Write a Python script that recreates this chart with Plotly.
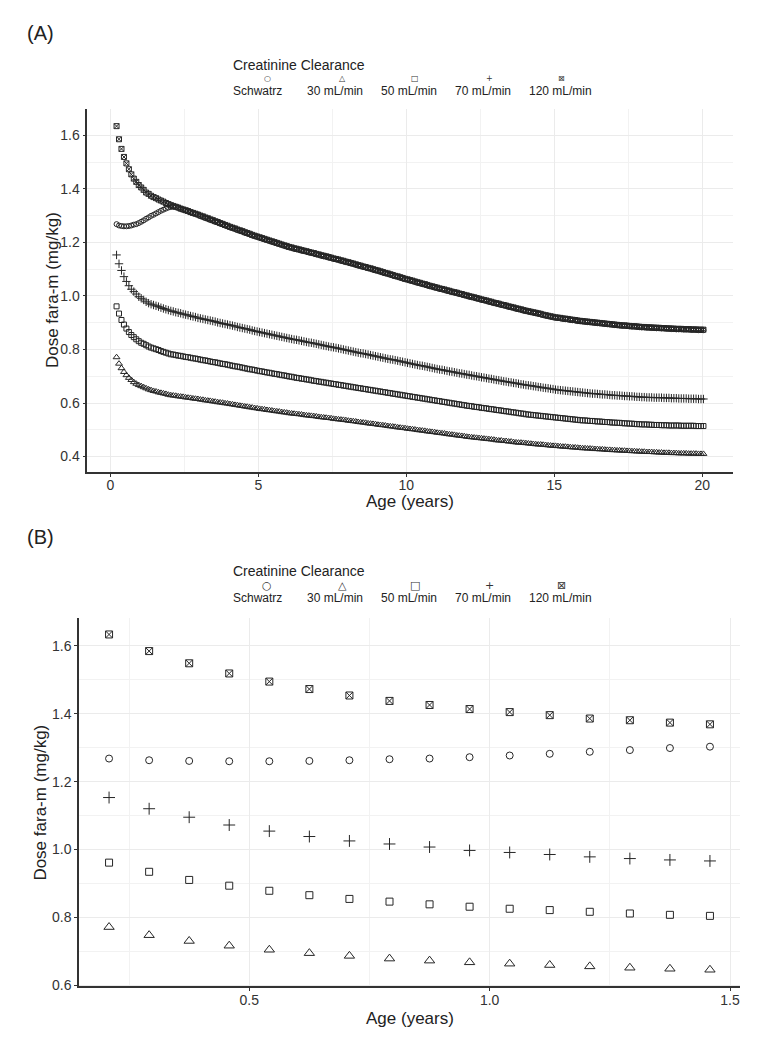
import plotly.graph_objects as go

W, H = 774, 1050
FONT = "Liberation Sans, Arial, sans-serif"
INK = "#262626"

# ages in years, one point per month starting at 2.5 months
age_a = [round((k + 2.5) / 12, 4) for k in range(239)]
age_b = [0.2083, 0.2917, 0.375, 0.4583, 0.5417, 0.625, 0.7083, 0.7917,
         0.875, 0.9583, 1.0417, 1.125, 1.2083, 1.2917, 1.375, 1.4583]

# dose (mg/kg), one row per year of age
schwartz = [
    1.268, 1.263, 1.261, 1.260, 1.260, 1.261, 1.263, 1.266, 1.268, 1.272,
    1.277, 1.282, 1.288, 1.293, 1.299, 1.303, 1.308, 1.313, 1.318, 1.322, 1.326, 1.330,
    1.332, 1.333, 1.332, 1.329, 1.325, 1.322, 1.319, 1.316, 1.312, 1.309, 1.306, 1.303,
    1.298, 1.295, 1.291, 1.288, 1.284, 1.281, 1.277, 1.274, 1.270, 1.267, 1.263, 1.260,
    1.256, 1.253, 1.250, 1.246, 1.243, 1.240, 1.236, 1.233, 1.230, 1.226, 1.223, 1.220,
    1.217, 1.214, 1.211, 1.208, 1.205, 1.202, 1.199, 1.196, 1.193, 1.190, 1.187, 1.184,
    1.181, 1.179, 1.176, 1.174, 1.172, 1.169, 1.167, 1.165, 1.162, 1.160, 1.158, 1.155,
    1.153, 1.150, 1.148, 1.146, 1.143, 1.141, 1.138, 1.136, 1.134, 1.131, 1.129, 1.126,
    1.124, 1.121, 1.119, 1.116, 1.113, 1.111, 1.108, 1.106, 1.103, 1.101, 1.098, 1.095,
    1.093, 1.090, 1.087, 1.084, 1.082, 1.079, 1.076, 1.073, 1.071, 1.068, 1.065, 1.062,
    1.060, 1.057, 1.055, 1.052, 1.049, 1.047, 1.044, 1.042, 1.039, 1.036, 1.034, 1.031,
    1.029, 1.026, 1.024, 1.022, 1.019, 1.017, 1.014, 1.012, 1.010, 1.007, 1.005, 1.002,
    1.000, 0.997, 0.995, 0.993, 0.990, 0.988, 0.985, 0.983, 0.981, 0.978, 0.976, 0.973,
    0.971, 0.969, 0.966, 0.964, 0.962, 0.959, 0.957, 0.955, 0.952, 0.950, 0.948, 0.945,
    0.943, 0.941, 0.939, 0.937, 0.935, 0.933, 0.931, 0.928, 0.926, 0.924, 0.922, 0.920,
    0.918, 0.917, 0.916, 0.914, 0.913, 0.912, 0.910, 0.909, 0.908, 0.906, 0.905, 0.904,
    0.903, 0.902, 0.901, 0.900, 0.899, 0.898, 0.897, 0.896, 0.895, 0.894, 0.893, 0.892,
    0.891, 0.890, 0.889, 0.888, 0.888, 0.887, 0.886, 0.885, 0.885, 0.884, 0.883, 0.882,
    0.882, 0.881, 0.881, 0.880, 0.880, 0.879, 0.879, 0.878, 0.878, 0.877, 0.877, 0.876,
    0.876, 0.875, 0.875, 0.875, 0.874, 0.874, 0.874, 0.873, 0.873, 0.873, 0.872, 0.872,
    0.872,
]
crcl_30 = [
    0.771, 0.747, 0.730, 0.716, 0.704, 0.694, 0.686, 0.678, 0.672, 0.667,
    0.663, 0.659, 0.655, 0.651, 0.648, 0.645, 0.643, 0.640, 0.638, 0.636, 0.634, 0.631,
    0.629, 0.628, 0.627, 0.625, 0.624, 0.623, 0.621, 0.620, 0.619, 0.617, 0.616, 0.615,
    0.613, 0.612, 0.610, 0.609, 0.608, 0.606, 0.605, 0.603, 0.602, 0.601, 0.599, 0.598,
    0.596, 0.595, 0.593, 0.592, 0.590, 0.589, 0.587, 0.586, 0.584, 0.583, 0.581, 0.580,
    0.578, 0.577, 0.576, 0.574, 0.573, 0.572, 0.570, 0.569, 0.568, 0.566, 0.565, 0.564,
    0.562, 0.561, 0.560, 0.559, 0.558, 0.557, 0.555, 0.554, 0.553, 0.552, 0.551, 0.550,
    0.548, 0.547, 0.546, 0.545, 0.544, 0.543, 0.541, 0.540, 0.539, 0.538, 0.537, 0.536,
    0.534, 0.533, 0.532, 0.531, 0.529, 0.528, 0.527, 0.526, 0.524, 0.523, 0.522, 0.521,
    0.519, 0.518, 0.517, 0.516, 0.514, 0.513, 0.512, 0.511, 0.509, 0.508, 0.507, 0.506,
    0.504, 0.503, 0.502, 0.501, 0.499, 0.498, 0.497, 0.496, 0.494, 0.493, 0.492, 0.491,
    0.489, 0.488, 0.487, 0.486, 0.484, 0.483, 0.482, 0.481, 0.479, 0.478, 0.477, 0.476,
    0.474, 0.473, 0.472, 0.471, 0.470, 0.469, 0.468, 0.467, 0.466, 0.465, 0.464, 0.463,
    0.461, 0.460, 0.460, 0.458, 0.458, 0.456, 0.456, 0.454, 0.453, 0.452, 0.452, 0.451,
    0.450, 0.449, 0.448, 0.447, 0.446, 0.445, 0.445, 0.444, 0.443, 0.442, 0.441, 0.440,
    0.440, 0.439, 0.438, 0.437, 0.437, 0.436, 0.435, 0.434, 0.434, 0.433, 0.432, 0.431,
    0.431, 0.430, 0.430, 0.429, 0.428, 0.428, 0.427, 0.427, 0.426, 0.425, 0.425, 0.424,
    0.424, 0.423, 0.423, 0.422, 0.422, 0.421, 0.421, 0.420, 0.420, 0.419, 0.419, 0.418,
    0.418, 0.417, 0.417, 0.417, 0.416, 0.416, 0.415, 0.415, 0.414, 0.414, 0.414, 0.413,
    0.413, 0.413, 0.412, 0.412, 0.412, 0.412, 0.411, 0.411, 0.411, 0.411, 0.410, 0.410,
    0.410,
]
crcl_50 = [
    0.961, 0.934, 0.910, 0.893, 0.878, 0.865, 0.854, 0.846, 0.838, 0.831,
    0.825, 0.821, 0.816, 0.811, 0.807, 0.804, 0.801, 0.798, 0.794, 0.791, 0.788, 0.785,
    0.782, 0.781, 0.779, 0.777, 0.776, 0.774, 0.772, 0.771, 0.769, 0.767, 0.766, 0.764,
    0.762, 0.760, 0.759, 0.757, 0.755, 0.753, 0.752, 0.750, 0.748, 0.746, 0.745, 0.743,
    0.741, 0.739, 0.737, 0.736, 0.734, 0.732, 0.730, 0.728, 0.726, 0.725, 0.723, 0.721,
    0.719, 0.718, 0.716, 0.714, 0.713, 0.711, 0.709, 0.708, 0.706, 0.704, 0.703, 0.701,
    0.699, 0.698, 0.696, 0.694, 0.693, 0.691, 0.690, 0.688, 0.687, 0.685, 0.683, 0.682,
    0.680, 0.679, 0.677, 0.676, 0.674, 0.673, 0.671, 0.670, 0.668, 0.667, 0.665, 0.664,
    0.662, 0.661, 0.659, 0.658, 0.656, 0.655, 0.653, 0.652, 0.650, 0.649, 0.647, 0.646,
    0.644, 0.643, 0.641, 0.640, 0.638, 0.637, 0.635, 0.634, 0.632, 0.631, 0.629, 0.628,
    0.626, 0.625, 0.623, 0.622, 0.620, 0.619, 0.617, 0.616, 0.614, 0.613, 0.611, 0.610,
    0.608, 0.607, 0.605, 0.604, 0.602, 0.601, 0.599, 0.598, 0.596, 0.595, 0.593, 0.592,
    0.590, 0.589, 0.588, 0.586, 0.585, 0.584, 0.582, 0.581, 0.580, 0.578, 0.577, 0.576,
    0.574, 0.573, 0.572, 0.570, 0.569, 0.568, 0.566, 0.565, 0.564, 0.562, 0.561, 0.560,
    0.558, 0.557, 0.556, 0.555, 0.554, 0.553, 0.552, 0.551, 0.550, 0.549, 0.548, 0.547,
    0.546, 0.545, 0.544, 0.543, 0.542, 0.541, 0.540, 0.539, 0.538, 0.537, 0.536, 0.535,
    0.535, 0.534, 0.533, 0.533, 0.532, 0.531, 0.531, 0.530, 0.529, 0.529, 0.528, 0.527,
    0.527, 0.526, 0.526, 0.525, 0.524, 0.524, 0.523, 0.523, 0.522, 0.521, 0.521, 0.520,
    0.520, 0.520, 0.519, 0.519, 0.518, 0.518, 0.518, 0.517, 0.517, 0.517, 0.516, 0.516,
    0.516, 0.516, 0.516, 0.515, 0.515, 0.515, 0.515, 0.515, 0.515, 0.514, 0.514, 0.514,
    0.514,
]
crcl_70 = [
    1.153, 1.120, 1.095, 1.072, 1.054, 1.038, 1.025, 1.016, 1.007, 0.997,
    0.991, 0.985, 0.978, 0.973, 0.969, 0.966, 0.963, 0.960, 0.956, 0.953, 0.950, 0.947,
    0.944, 0.942, 0.939, 0.937, 0.935, 0.932, 0.930, 0.928, 0.925, 0.923, 0.921, 0.918,
    0.916, 0.914, 0.912, 0.910, 0.908, 0.906, 0.904, 0.901, 0.899, 0.897, 0.895, 0.893,
    0.891, 0.889, 0.887, 0.884, 0.882, 0.880, 0.878, 0.876, 0.874, 0.871, 0.869, 0.867,
    0.865, 0.863, 0.861, 0.859, 0.857, 0.855, 0.853, 0.851, 0.849, 0.847, 0.845, 0.843,
    0.841, 0.839, 0.837, 0.836, 0.834, 0.832, 0.830, 0.828, 0.826, 0.825, 0.823, 0.821,
    0.819, 0.817, 0.815, 0.813, 0.811, 0.809, 0.808, 0.806, 0.804, 0.802, 0.800, 0.798,
    0.796, 0.794, 0.792, 0.790, 0.788, 0.786, 0.785, 0.783, 0.781, 0.779, 0.777, 0.775,
    0.773, 0.771, 0.769, 0.767, 0.765, 0.763, 0.762, 0.760, 0.758, 0.756, 0.754, 0.752,
    0.750, 0.748, 0.746, 0.744, 0.742, 0.740, 0.739, 0.737, 0.735, 0.733, 0.731, 0.729,
    0.727, 0.725, 0.724, 0.722, 0.720, 0.718, 0.717, 0.715, 0.713, 0.711, 0.710, 0.708,
    0.706, 0.705, 0.703, 0.701, 0.700, 0.698, 0.696, 0.695, 0.693, 0.691, 0.690, 0.688,
    0.686, 0.685, 0.683, 0.681, 0.680, 0.678, 0.677, 0.675, 0.674, 0.672, 0.670, 0.669,
    0.667, 0.666, 0.665, 0.663, 0.662, 0.660, 0.659, 0.657, 0.656, 0.655, 0.653, 0.652,
    0.650, 0.649, 0.648, 0.647, 0.646, 0.645, 0.644, 0.643, 0.642, 0.641, 0.640, 0.639,
    0.638, 0.637, 0.636, 0.635, 0.635, 0.634, 0.633, 0.632, 0.632, 0.631, 0.630, 0.629,
    0.629, 0.628, 0.628, 0.627, 0.626, 0.626, 0.625, 0.625, 0.624, 0.623, 0.623, 0.622,
    0.622, 0.621, 0.621, 0.621, 0.620, 0.620, 0.620, 0.620, 0.619, 0.619, 0.619, 0.618,
    0.618, 0.618, 0.617, 0.617, 0.617, 0.617, 0.616, 0.616, 0.616, 0.616, 0.615, 0.615,
    0.615,
]
crcl_120 = [
    1.634, 1.585, 1.549, 1.519, 1.495, 1.473, 1.454, 1.438, 1.426, 1.414,
    1.405, 1.396, 1.386, 1.381, 1.374, 1.369, 1.365, 1.360, 1.356, 1.352, 1.347, 1.343,
    1.339, 1.336, 1.333, 1.330, 1.326, 1.323, 1.320, 1.317, 1.313, 1.310, 1.307, 1.304,
    1.300, 1.297, 1.293, 1.290, 1.286, 1.283, 1.279, 1.276, 1.272, 1.269, 1.265, 1.262,
    1.258, 1.255, 1.252, 1.248, 1.245, 1.242, 1.238, 1.235, 1.232, 1.228, 1.225, 1.222,
    1.219, 1.216, 1.213, 1.210, 1.207, 1.204, 1.201, 1.198, 1.195, 1.192, 1.189, 1.186,
    1.183, 1.181, 1.178, 1.176, 1.174, 1.171, 1.169, 1.167, 1.164, 1.162, 1.160, 1.157,
    1.155, 1.152, 1.150, 1.148, 1.145, 1.143, 1.140, 1.138, 1.136, 1.133, 1.131, 1.128,
    1.126, 1.123, 1.121, 1.118, 1.115, 1.113, 1.110, 1.108, 1.105, 1.103, 1.100, 1.097,
    1.095, 1.092, 1.089, 1.086, 1.084, 1.081, 1.078, 1.075, 1.073, 1.070, 1.067, 1.064,
    1.062, 1.059, 1.057, 1.054, 1.051, 1.049, 1.046, 1.044, 1.041, 1.038, 1.036, 1.033,
    1.031, 1.028, 1.026, 1.024, 1.021, 1.019, 1.016, 1.014, 1.012, 1.009, 1.007, 1.004,
    1.002, 0.999, 0.997, 0.995, 0.992, 0.990, 0.987, 0.985, 0.983, 0.980, 0.978, 0.975,
    0.973, 0.971, 0.968, 0.966, 0.964, 0.961, 0.959, 0.957, 0.954, 0.952, 0.950, 0.947,
    0.945, 0.943, 0.941, 0.939, 0.937, 0.935, 0.933, 0.930, 0.928, 0.926, 0.924, 0.922,
    0.920, 0.919, 0.918, 0.916, 0.915, 0.914, 0.912, 0.911, 0.910, 0.908, 0.907, 0.906,
    0.905, 0.904, 0.903, 0.902, 0.901, 0.900, 0.899, 0.898, 0.897, 0.896, 0.895, 0.894,
    0.893, 0.892, 0.891, 0.890, 0.890, 0.889, 0.888, 0.887, 0.887, 0.886, 0.885, 0.884,
    0.884, 0.883, 0.883, 0.882, 0.882, 0.881, 0.881, 0.880, 0.880, 0.879, 0.879, 0.878,
    0.878, 0.877, 0.877, 0.877, 0.876, 0.876, 0.876, 0.875, 0.875, 0.875, 0.874, 0.874,
    0.874,
]

series_names = ["Schwatrz", "30 mL/min", "50 mL/min", "70 mL/min", "120 mL/min"]
series_vals = [schwartz, crcl_30, crcl_50, crcl_70, crcl_120]
symbols = ["circle-open", "triangle-up-open", "square-open", "cross-thin", "square-x-open"]
size_a = [5, 6, 5, 6, 5]
size_b = [7, 9, 7, 8.5, 7]
legend_glyphs = ["\u25cb", "\u25b3", "\u25a1", "+", "\u22a0"]

fig = go.Figure()
n_b = len(age_b)
for name, vals, sym, sa, sb in zip(series_names, series_vals, symbols, size_a, size_b):
    fig.add_trace(go.Scatter(x=age_a, y=vals, mode="markers", name=name,
                             xaxis="x", yaxis="y", showlegend=False,
                             marker=dict(symbol=sym, size=sa, color=INK,
                                         line=dict(color=INK, width=1))))
    fig.add_trace(go.Scatter(x=age_b, y=vals[:n_b], mode="markers", name=name,
                             xaxis="x2", yaxis="y2", showlegend=False,
                             marker=dict(symbol=sym, size=sb, color=INK,
                                         line=dict(color=INK, width=1))))


def axis_style(**kw):
    d = dict(showline=True, linecolor="#333", linewidth=1.5, ticks="outside",
             ticklen=3, tickcolor="#333", tickwidth=1,
             tickfont=dict(family=FONT, size=14, color="#333"),
             showgrid=True, gridcolor="#ebebeb", gridwidth=1, zeroline=False,
             mirror=False)
    d.update(kw)
    return d


def px_x(x):
    return x / W


def px_y(y):
    return 1 - y / H


fig.update_layout(
    width=W, height=H, margin=dict(l=0, r=0, t=0, b=0),
    paper_bgcolor="white", plot_bgcolor="white",
    font=dict(family=FONT, color="#222"),
    xaxis=axis_style(domain=[px_x(87.3), px_x(732.7)], anchor="y",
                     range=[-0.78, 21.03], tick0=0, dtick=5, ticklabelstandoff=-3,
                     minor=dict(tick0=0, dtick=2.5, showgrid=True,
                                gridcolor="#f2f2f2", gridwidth=0.6)),
    yaxis=axis_style(domain=[px_y(475), px_y(110)], anchor="x",
                     range=[0.343, 1.697], tick0=0.4, dtick=0.2, tickformat=".1f",
                     minor=dict(tick0=0.4, dtick=0.1, showgrid=True,
                                gridcolor="#f2f2f2", gridwidth=0.6)),
    xaxis2=axis_style(domain=[px_x(79), px_x(740)], anchor="y2",
                      range=[0.1458, 1.5208], tick0=0, dtick=0.5, tickformat=".1f",
                      ticklabelstandoff=-3,
                      minor=dict(tick0=0, dtick=0.25, showgrid=True,
                                 gridcolor="#f2f2f2", gridwidth=0.6)),
    yaxis2=axis_style(domain=[px_y(993), px_y(622)], anchor="x2",
                      range=[0.596, 1.683], tick0=0.6, dtick=0.2, tickformat=".1f",
                      minor=dict(tick0=0.6, dtick=0.1, showgrid=True,
                                 gridcolor="#f2f2f2", gridwidth=0.6)),
)

ann = []


def text(x, y, s, size, xanchor="center", angle=0, family=FONT, color="#222"):
    ann.append(dict(x=px_x(x), y=px_y(y), xref="paper", yref="paper", text=s,
                    showarrow=False, xanchor=xanchor, yanchor="middle",
                    textangle=angle, font=dict(family=family, size=size, color=color)))


# panel tags
text(40, 33, "(A)", 20)
text(40, 541, "(B)", 20)

# axis titles
text(52, 292, "Dose fara-m (mg/kg)", 17, angle=-90)
text(410, 505, "Age (years)", 17)
text(41, 808, "Dose fara-m (mg/kg)", 17, angle=-90)
text(410, 1025, "Age (years)", 17)

# legends drawn above each panel: title, keys, labels below keys
label_left = [231, 305, 379, 453, 527]
key_x = [267, 342, 415, 489, 561]
for top, glyph_size in [(65, 8), (575, 11)]:
    text(231, top, "Creatinine Clearance", 14, xanchor="left")
    for lx, kx, name, g in zip(label_left, key_x, series_names, legend_glyphs):
        text(kx, top + 14, g, glyph_size, family="DejaVu Sans", color="#333")
        text(lx, top + 27, name, 12, xanchor="left")

fig.update_layout(annotations=ann)
# drop the browser's default body margin so the figure sits at the page origin
fig.write_html("out.html", config={"displayModeBar": False},
               post_script="document.body.style.margin = '0';")
